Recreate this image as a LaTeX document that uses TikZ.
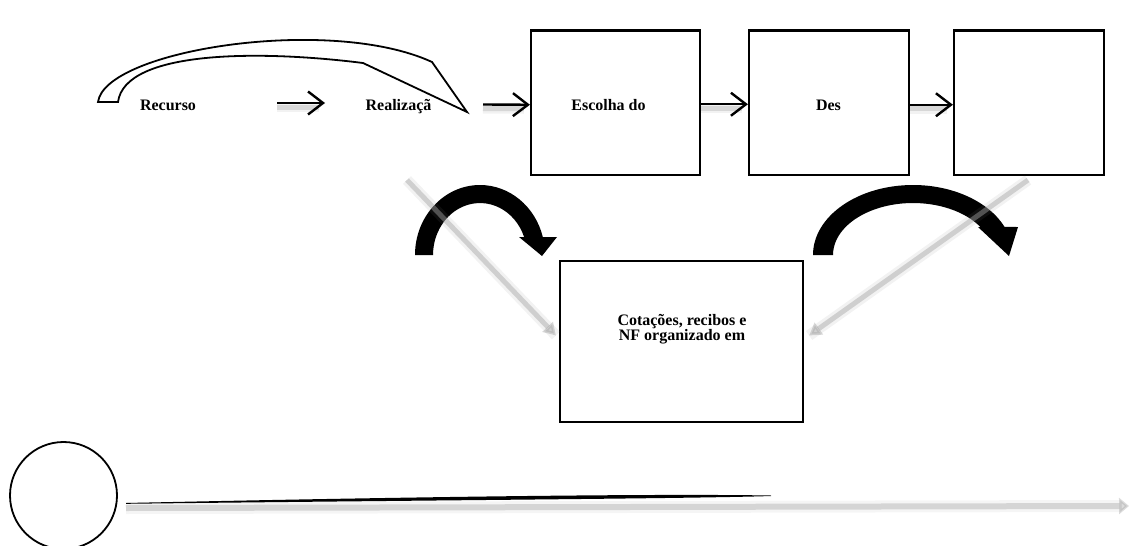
\documentclass[tikz,border=0pt]{standalone}
\usepackage{fontspec}
\setmainfont{Liberation Serif}
\usetikzlibrary{arrows.meta}
\begin{document}
\begin{tikzpicture}[x=1pt,y=-1pt,
  box/.style={draw, line width=2.2pt, inner sep=0pt, minimum height=144.5pt},
  lbl/.style={font=\bfseries\fontsize{16}{15.3}\selectfont, anchor=base, inner sep=0pt, align=center},
  blkarrow/.style={line width=2.4pt, -{Straight Barb[length=15pt,width=23pt,line width=2.4pt]}},
  shwide/.style={line width=10pt, draw=black, opacity=0.05},
  shcore/.style={line width=5pt, draw=black, opacity=0.11},
  graywide/.style={line width=11pt, draw=gray, opacity=0.10},
  graycore/.style={line width=5pt, draw=gray!70, opacity=0.45, -{Triangle[length=12pt,width=14pt]}},
  blackshape/.style={fill=black},
  hollow/.style={draw=black, line width=1.8pt, fill=white, line join=miter}
]
\useasboundingbox (0,0) rectangle (1130,546);

% boxes
\node[box, minimum width=169pt] (b1) at (615.5,102.75) {};
\node[box, minimum width=160pt] (b2) at (829,102.75) {};
\node[box, minimum width=150pt] (b3) at (1029,102.75) {};
\node[box, minimum width=243pt, minimum height=161pt] (cot) at (681.5,341.5) {};

% labels
\node[lbl] (rec) at (168,110.7) {Recurso};
\node[lbl] (real) at (398.5,110.7) {Realizaçã};
\node[lbl] (esc) at (608.5,110.7) {Escolha do};
\node[lbl] (des) at (828.5,110.3) {Des};
\node[lbl] (cottxt) at (682,340.7) {Cotações, recibos e\\NF organizado em};

% hollow curved arrow
\path[hollow] (98,102) .. controls (105,50) and (330,15) .. (432,62) -- (467,112) -- (363,63) .. controls (260,50) and (125,50) .. (118,102) -- cycle;

% straight arrow coordinates
\coordinate (a1s) at (277,103);
\coordinate (a1e) at (325,103);
\coordinate (a2s) at (483,104.5);

% shadows of straight arrows
\begin{scope}[transform canvas={yshift=-4pt}]
  \draw[shwide] (a1s) -- ([xshift=-6pt]a1e);
  \draw[shcore] (a1s) -- ([xshift=-6pt]a1e);
  \draw[shwide] (a2s) -- ([xshift=-6pt,yshift=-2pt]b1.west);
  \draw[shcore] (a2s) -- ([xshift=-6pt,yshift=-2pt]b1.west);
  \draw[shwide] ([yshift=-1.5pt]b1.east) -- ([xshift=-6pt,yshift=-1.5pt]b2.west);
  \draw[shcore] ([yshift=-1.5pt]b1.east) -- ([xshift=-6pt,yshift=-1.5pt]b2.west);
  \draw[shwide] ([yshift=-2pt]b2.east) -- ([xshift=-6pt,yshift=-2pt]b3.west);
  \draw[shcore] ([yshift=-2pt]b2.east) -- ([xshift=-6pt,yshift=-2pt]b3.west);
\end{scope}

% straight black arrows
\draw[blkarrow] (a1s) -- (a1e);
\draw[blkarrow] (a2s) -- ([yshift=-2pt]b1.west);
\draw[blkarrow] ([yshift=-1.5pt]b1.east) -- ([yshift=-1.5pt]b2.west);
\draw[blkarrow] ([yshift=-2pt]b2.east) -- ([yshift=-2pt]b3.west);

% black curved arrows
\fill[blackshape] (415,255) arc[start angle=180, end angle=14.9, x radius=65pt, y radius=70pt]
  -- (557,237) -- (542,256) -- (519,237) -- (524.1,237)
  arc[start angle=20.3, end angle=180, x radius=47pt, y radius=52pt] -- cycle;
\fill[blackshape] (813,255) arc[start angle=180, end angle=23.6, x radius=100pt, y radius=70pt]
  -- (1018,227) -- (1009,256) -- (978,227) -- (980.4,227)
  arc[start angle=32.6, end angle=180, x radius=80pt, y radius=52pt] -- cycle;

% gray diagonal arrows
\coordinate (g1s) at (407,180);
\coordinate (g2s) at (1028,180);
\draw[graywide] (g1s) -- ([xshift=-3pt,yshift=6pt]cot.west);
\draw[graycore] (g1s) -- ([xshift=-3pt,yshift=6pt]cot.west);
\draw[graywide] (g2s) -- ([xshift=5pt,yshift=6pt]cot.east);
\draw[graycore] (g2s) -- ([xshift=5pt,yshift=6pt]cot.east);

% circle and bottom line
\node[circle, draw, line width=1.8pt, minimum size=107pt, inner sep=0pt] (circ) at (63.5,495.5) {};
\coordinate (ls) at (126,508);
\coordinate (le) at (1129,506);
\draw[line width=12pt, draw=gray, opacity=0.08] (ls) -- ([xshift=-8pt]le);
\draw[line width=6pt, draw=gray!70, opacity=0.4, -{Triangle[length=10pt,width=16pt]}] (ls) -- (le);
\fill[black] (126,503) .. controls (400,497) and (650,493.5) .. (771,495.5)
  -- (771,496) .. controls (700,498.5) and (400,500.5) .. (126,503.8) -- cycle;
\end{tikzpicture}
\end{document}
